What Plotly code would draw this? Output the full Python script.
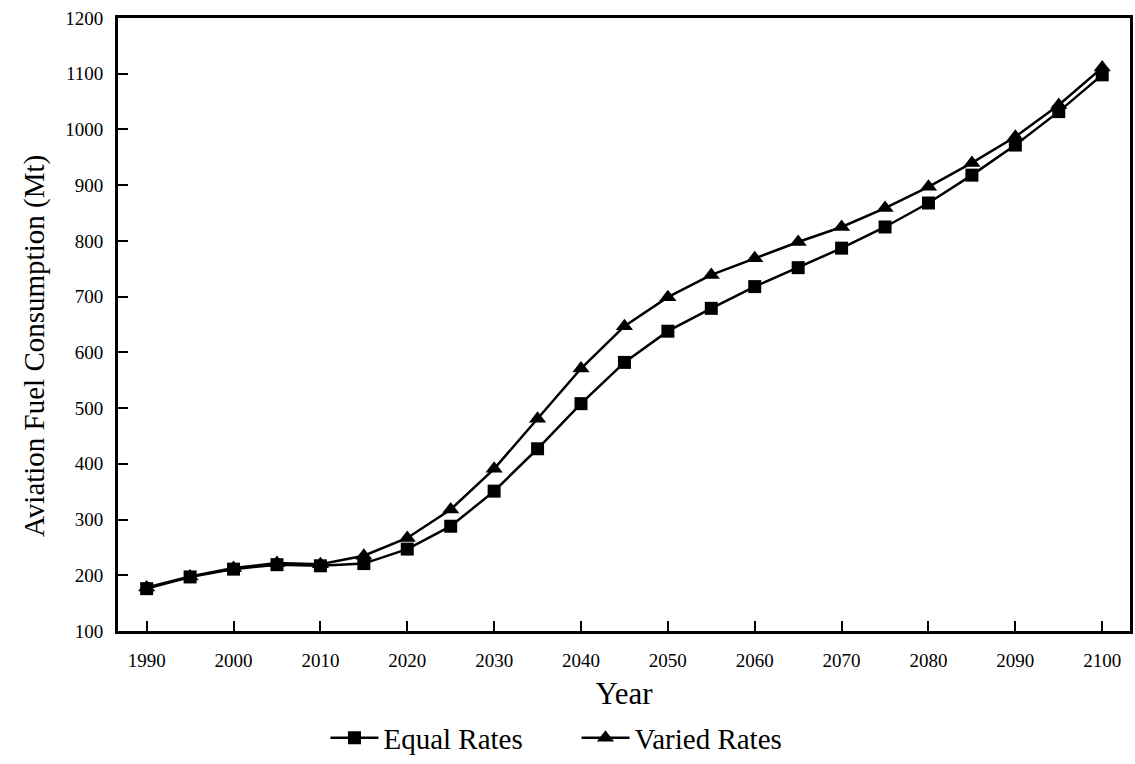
import plotly.graph_objects as go

years = list(range(1990, 2101, 5))
equal_rates = [176, 197, 211, 219, 217, 221, 247, 288, 351, 427, 508, 582, 638, 679, 718, 752, 787, 825, 868, 918, 972, 1032, 1098]
varied_rates = [178, 198, 213, 222, 220, 235, 267, 318, 391, 481, 571, 647, 699, 739, 769, 798, 825, 859, 897, 940, 987, 1044, 1111]
x_ticks = list(range(1990, 2101, 10))
y_ticks = list(range(100, 1201, 100))
y_title = "Aviation Fuel Consumption (Mt)"

font = "Liberation Serif, Times New Roman, serif"

fig = go.Figure()
fig.add_trace(go.Scatter(x=years, y=equal_rates, name="Equal Rates", mode="lines+markers",
                         line=dict(color="black", width=2.5),
                         marker=dict(symbol="square", size=13, color="black")))
fig.add_trace(go.Scatter(x=years, y=varied_rates, name="Varied Rates", mode="lines+markers",
                         line=dict(color="black", width=2.5),
                         marker=dict(symbol="triangle-up", size=15, color="black")))

fig.add_annotation(text=y_title, xref="paper", yref="paper", x=-0.082, y=0.465,
                   textangle=-90, showarrow=False, xanchor="center", yanchor="middle",
                   font=dict(size=29, family=font, color="black"))

fig.update_layout(
    width=1135, height=764,
    margin=dict(l=118, r=5, t=18, b=133, autoexpand=False),
    plot_bgcolor="white", paper_bgcolor="white",
    font=dict(family=font, color="black"),
    showlegend=True,
    legend=dict(orientation="h", x=0.205, xanchor="left", y=-0.216, yanchor="bottom",
                font=dict(size=29, family=font), itemwidth=48, tracegroupgap=0,
                entrywidth=188, entrywidthmode="pixels"),
    xaxis=dict(range=[1986.7, 2103.2], tickvals=x_ticks, ticks="inside", ticklen=10, tickwidth=2,
               tickcolor="black", showline=True, linecolor="black", linewidth=3, mirror=True,
               showgrid=False, zeroline=False, tickfont=dict(size=19, family=font),
               ticklabelstandoff=10, automargin=False,
               title=dict(text="Year", font=dict(size=31, family=font), standoff=13)),
    yaxis=dict(range=[100, 1200], tickvals=y_ticks, ticks="inside", ticklen=10, tickwidth=2,
               tickcolor="black", showline=True, linecolor="black", linewidth=3, mirror=True,
               showgrid=False, zeroline=False, tickfont=dict(size=19, family=font),
               ticklabelstandoff=8, automargin=False),
)

post = (
    "document.documentElement.style.margin='0';"
    "document.body.style.margin='0';"
    "document.body.style.padding='0';"
    "document.body.style.overflow='hidden';"
)

fig.write_html("out.html", post_script=post, config={"displayModeBar": False})
